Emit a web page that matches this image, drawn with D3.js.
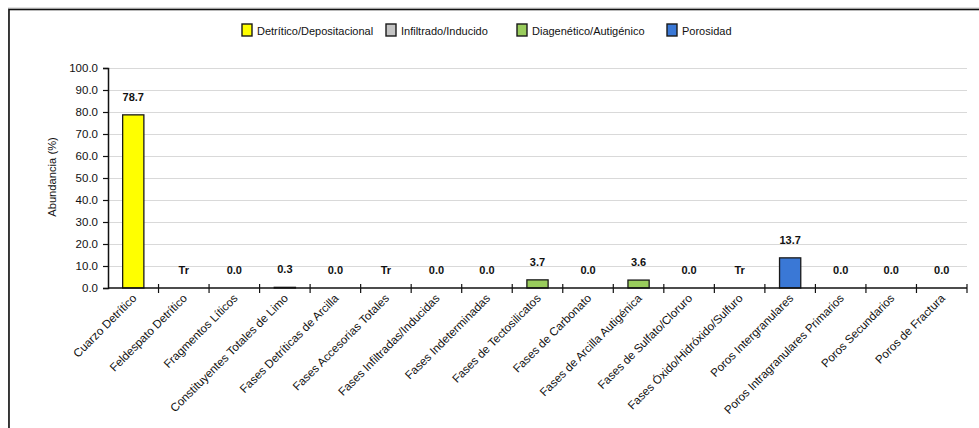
<!DOCTYPE html>
<html>
<head>
<meta charset="utf-8">
<script src="https://cdn.jsdelivr.net/npm/d3@7/dist/d3.min.js"></script>
<style>
  html, body { margin: 0; padding: 0; background: #fff; }
  svg { display: block; font-family: "Liberation Sans", Arial, sans-serif; }
</style>
</head>
<body>
<svg id="chart" width="979" height="428"></svg>
<script>
// Rock components and their abundance (%); "Tr" marks a trace amount
const categories = [
  "Cuarzo Detrítico", "Feldespato Detrítico", "Fragmentos Líticos",
  "Constituyentes Totales de Limo", "Fases Detríticas de Arcilla",
  "Fases Accesorias Totales", "Fases Infiltradas/Inducidas",
  "Fases Indeterminadas", "Fases de Tectosilicatos", "Fases de Carbonato",
  "Fases de Arcilla Autigénica", "Fases de Sulfato/Cloruro",
  "Fases Óxido/Hidróxido/Sulfuro", "Poros Intergranulares",
  "Poros Intragranulares Primarios", "Poros Secundarios", "Poros de Fractura"
];
const abundance = [78.7, "Tr", 0.0, 0.3, 0.0, "Tr", 0.0, 0.0, 3.7, 0.0, 3.6, 0.0, "Tr", 13.7, 0.0, 0.0, 0.0];
const groupOf = [0, 0, 0, 0, 0, 0, 1, 1, 2, 2, 2, 2, 2, 3, 3, 3, 3];
const groups = ["Detrítico/Depositacional", "Infiltrado/Inducido", "Diagenético/Autigénico", "Porosidad"];
const groupColors = ["#ffff00", "#c4c4c4", "#99cc5c", "#3a78d6"];
const yTicks = [0, 10, 20, 30, 40, 50, 60, 70, 80, 90, 100];

const svg = d3.select("#chart");

// Outer frame
svg.append("rect")
  .attr("x", 8.5).attr("y", 8).attr("width", 1100).attr("height", 600)
  .attr("fill", "none").attr("stroke", "#c8c8c8").attr("stroke-width", 1);
svg.append("rect")
  .attr("x", 9).attr("y", 9.5).attr("width", 1100).attr("height", 600)
  .attr("fill", "none").attr("stroke", "#111").attr("stroke-width", 1.6);

const plot = { left: 108, right: 967, top: 68, bottom: 288 };

const x = d3.scaleBand().domain(categories).range([plot.left, plot.right]).paddingInner(0).paddingOuter(0);
const y = d3.scaleLinear().domain([0, 100]).range([plot.bottom, plot.top]);
const val = v => typeof v === "number" ? v : 0;

// Horizontal gridlines
svg.append("g").selectAll("line").data(yTicks.filter(t => t > 0)).join("line")
  .attr("x1", plot.left).attr("x2", plot.right)
  .attr("y1", d => y(d) + 0.5).attr("y2", d => y(d) + 0.5)
  .attr("stroke", "#d9d9d9").attr("stroke-width", 1.2);

// Bars
const barW = x.bandwidth() * 0.42;
svg.append("g").selectAll("rect").data(categories).join("rect")
  .attr("x", (d) => x(d) + (x.bandwidth() - barW) / 2)
  .attr("width", barW)
  .attr("y", (d, i) => y(val(abundance[i])))
  .attr("height", (d, i) => y(0) - y(val(abundance[i])))
  .attr("fill", (d, i) => groupColors[groupOf[i]])
  .attr("stroke", "#1a1a1a").attr("stroke-width", 1.3)
  .attr("display", (d, i) => val(abundance[i]) > 0 ? null : "none");

// Value labels
svg.append("g").selectAll("text").data(categories).join("text")
  .attr("x", d => x(d) + x.bandwidth() / 2)
  .attr("y", (d, i) => y(val(abundance[i])) - 14)
  .attr("text-anchor", "middle")
  .attr("font-size", 11).attr("font-weight", "bold").attr("fill", "#111")
  .text((d, i) => typeof abundance[i] === "number" ? abundance[i].toFixed(1) : abundance[i]);

// Y axis
const yAxis = svg.append("g").attr("transform", `translate(${plot.left},0)`)
  .call(d3.axisLeft(y).tickValues(yTicks).tickFormat(d3.format(".1f")).tickSizeOuter(0).tickSize(5).tickPadding(5));
yAxis.select(".domain").attr("stroke", "#111").attr("stroke-width", 1.5);
yAxis.selectAll(".tick line").attr("stroke", "#111").attr("stroke-width", 1.2);
yAxis.selectAll("text").attr("font-size", 11.5).attr("fill", "#111").attr("font-family", "Liberation Sans, Arial, sans-serif");

// X axis with boundary ticks crossing the baseline
const xg = svg.append("g");
xg.append("line")
  .attr("x1", plot.left).attr("x2", plot.right)
  .attr("y1", plot.bottom).attr("y2", plot.bottom)
  .attr("stroke", "#111").attr("stroke-width", 1.5);
const bounds = categories.map(c => x(c)).concat([plot.right]).slice(1);
xg.selectAll("line.tk").data(bounds).join("line").attr("class", "tk")
  .attr("x1", d => d).attr("x2", d => d)
  .attr("y1", plot.bottom - 4).attr("y2", plot.bottom + 5)
  .attr("stroke", "#111").attr("stroke-width", 1.2);

// Category labels, rotated
xg.selectAll("text").data(categories).join("text")
  .attr("transform", d => `translate(${x(d) + x.bandwidth() / 2 + 4},${plot.bottom + 11}) rotate(-45)`)
  .attr("text-anchor", "end")
  .attr("font-size", 11.6).attr("fill", "#111")
  .text(d => d);

// Y axis title
svg.append("text")
  .attr("transform", `translate(56,${(plot.top + plot.bottom) / 2 - 1}) rotate(-90)`)
  .attr("text-anchor", "middle")
  .attr("font-size", 11.2).attr("fill", "#111")
  .text("Abundancia (%)");

// Legend
const legendX = [242, 386, 517, 667];
const lg = svg.append("g").selectAll("g").data(groups).join("g")
  .attr("transform", (d, i) => `translate(${legendX[i]},24)`);
lg.append("rect").attr("width", 10).attr("height", 12)
  .attr("fill", (d, i) => groupColors[i]).attr("stroke", "#1a1a1a").attr("stroke-width", 1.4);
lg.append("text").attr("x", 15).attr("y", 11)
  .attr("font-size", 11).attr("fill", "#111")
  .text(d => d);
</script>
</body>
</html>
